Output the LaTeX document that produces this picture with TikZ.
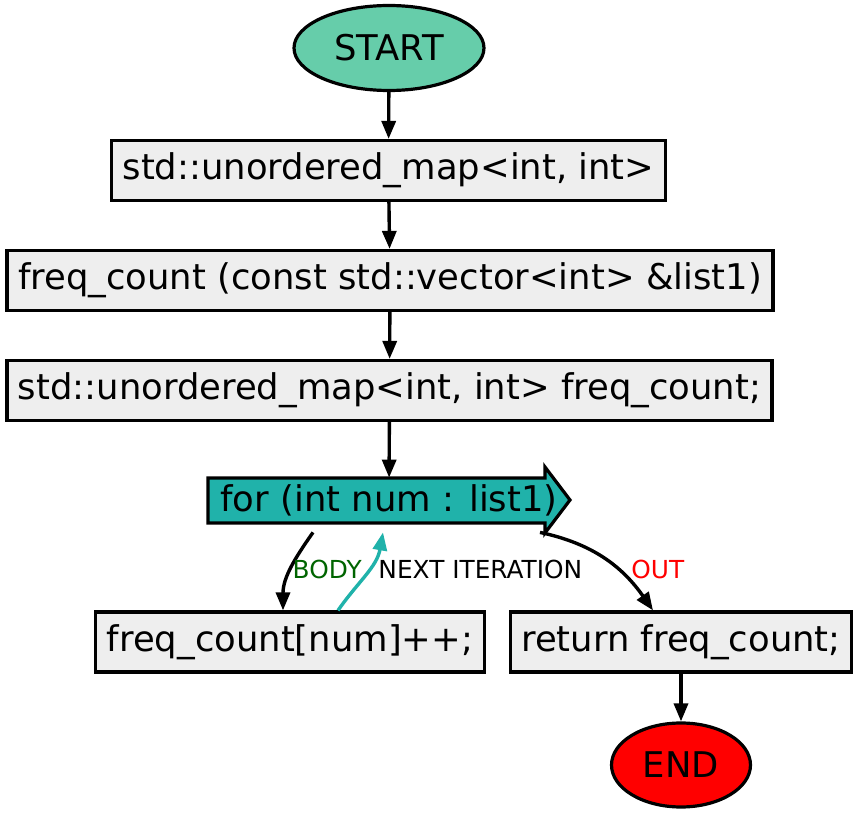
\documentclass[tikz,border=0pt]{standalone}
\usepackage{fontspec}
\setmainfont{DejaVu Sans}
\usetikzlibrary{shapes.geometric, arrows.meta}
\definecolor{startgreen}{HTML}{66CDAA}
\definecolor{boxgray}{HTML}{EEEEEE}
\definecolor{loopteal}{HTML}{20B2AA}
\definecolor{bodygreen}{HTML}{006400}

\begin{document}
\begin{tikzpicture}[x=0.5pt, y=-0.5pt,
        box/.style={draw, line width=1.6pt, fill=boxgray, minimum height=30pt, inner xsep=5.5pt, font=\fontsize{17.7}{20}\selectfont},
        term/.style={draw, ellipse, line width=1.6pt, inner sep=0pt, font=\fontsize{17.7}{20}\selectfont},
        flow/.style={-{Triangle[length=9pt, width=7pt]}, line width=1.7pt},
        lbl/.style={font=\fontsize{12.4}{14}\selectfont, inner sep=3pt}]
            \useasboundingbox (0, 0) rectangle (859, 813);

            \node[term, fill=startgreen, minimum width=95pt, minimum height=42.5pt] (start) at (389, 48) {START};
            \node[box] (decl) at (388.5, 170.5) {std::unordered\_map<int, int>};
            \node[box] (sig)  at (390, 280.5) {freq\_count (const std::vector<int> \&list1)};
            \node[box] (init) at (389.5, 390.5) {std::unordered\_map<int, int> freq\_count;};

            % loop header drawn as an arrow shape
            \draw[line width=1.6pt, fill=loopteal] (208, 478) -- (545, 478) -- (545, 467) -- (570, 500)
                -- (545, 533) -- (545, 523) -- (208, 523) -- cycle;
            \node[minimum height=22.5pt, inner sep=0pt, font=\fontsize{17.7}{20}\selectfont] (loop) at (389, 500.5) {for (int num : list1)};

            \node[box] (body) at (290, 642) {freq\_count[num]++;};
            \node[box] (ret)  at (681, 642) {return freq\_count;};
            \node[term, fill=red, minimum width=69.5pt, minimum height=42pt] (end) at (681, 765) {END};

            \draw[flow] (start) -- (decl);
            \draw[flow] (decl) -- (sig);
            \draw[flow] (sig) -- (init);
            \draw[flow] (init) -- (loop);
            \draw[flow] ([xshift=-38pt, yshift=-4.5pt]loop.south) to[out=235, in=90]
                node[lbl, right, pos=0.5, xshift=-3pt, text=bodygreen] (lbody) {BODY} ([xshift=-3.5pt]body.north);
            \draw[flow, loopteal] ([xshift=24pt]body.north) to[out=55, in=-100]
                node[lbl, right, pos=0.5, xshift=2.5pt, yshift=2pt, text=black] (lnext) {NEXT ITERATION} ([xshift=-3pt, yshift=-4.5pt]loop.south);
            \draw[flow] ([xshift=75.5pt, yshift=-4.5pt]loop.south) to[out=-12, in=125]
                node[lbl, right, pos=0.5, xshift=9.5pt, yshift=-5pt, text=red] (lout) {OUT} ([xshift=-14pt]ret.north);
            \draw[flow] (ret) -- (end);
        \end{tikzpicture}
\end{document}
